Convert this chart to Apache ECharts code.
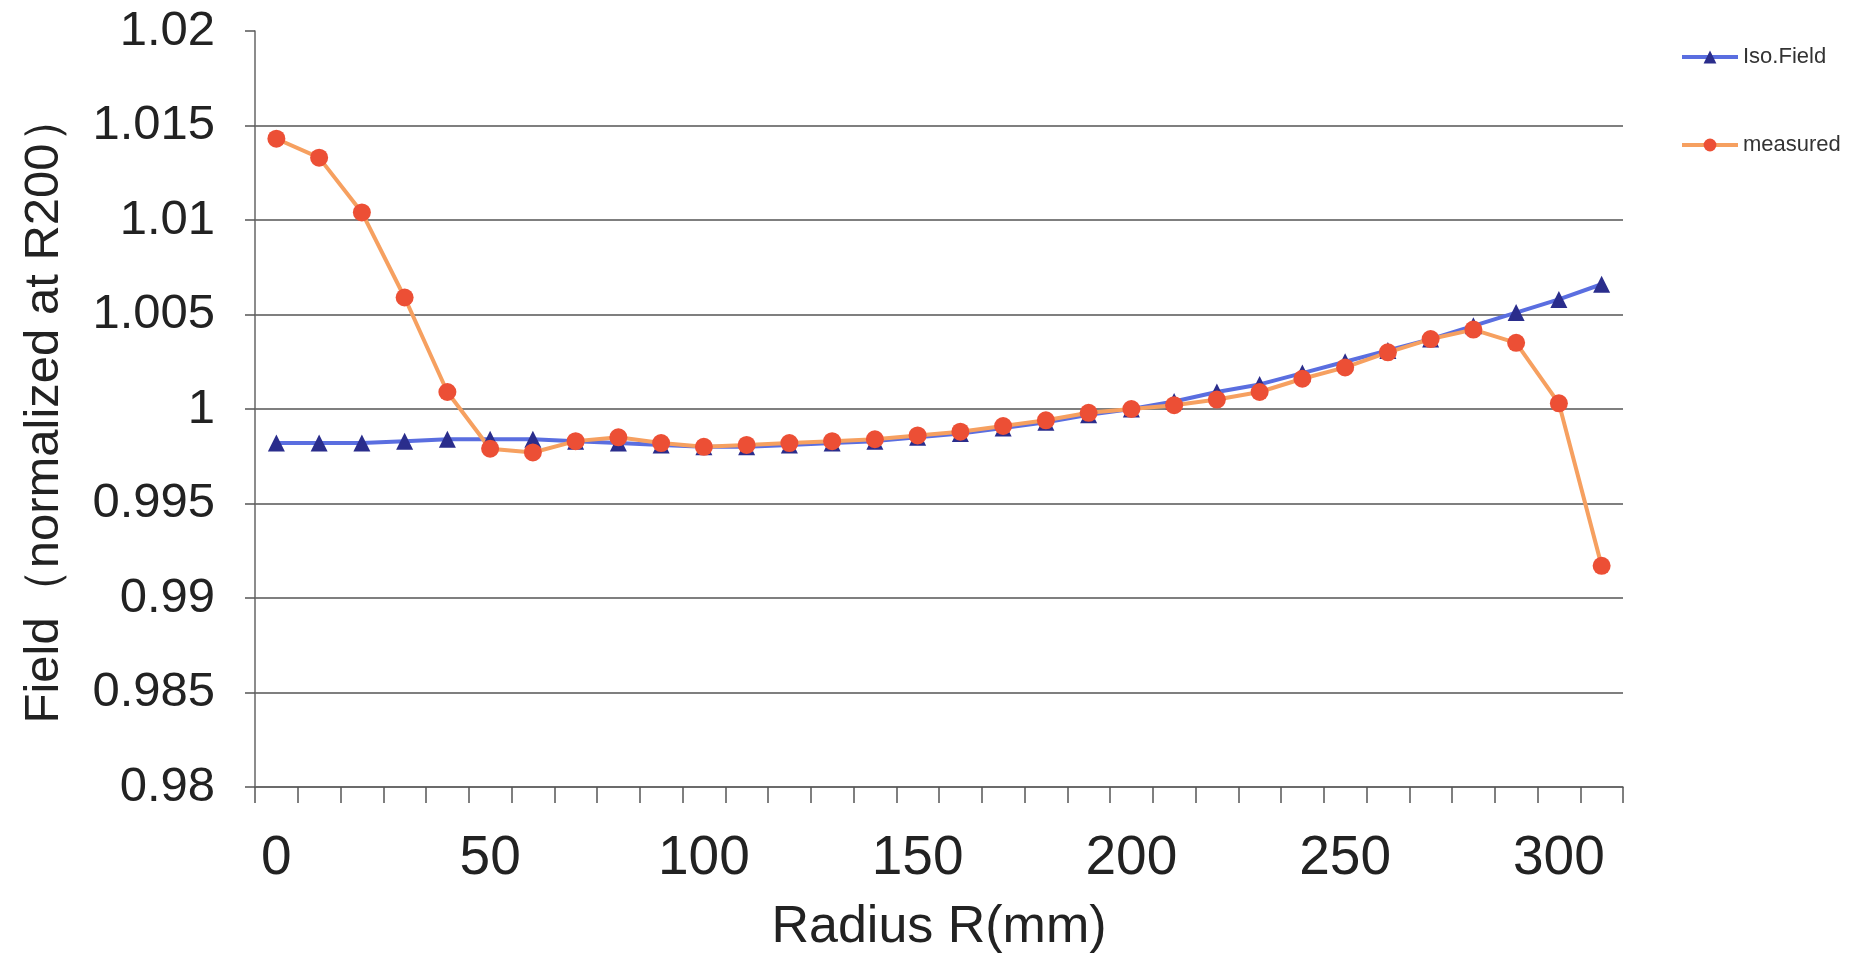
<!DOCTYPE html>
<html>
<head>
<meta charset="utf-8">
<script src="https://cdn.jsdelivr.net/npm/echarts@6/dist/echarts.min.js"></script>
<style>
  html, body { margin: 0; padding: 0; background: #fff; }
  #chart { width: 1875px; height: 962px; }
</style>
</head>
<body>
<div id="chart"></div>
<script>
// radius in mm
const radius = [0, 10, 20, 30, 40, 50, 60, 70, 80, 90, 100, 110, 120, 130, 140, 150,
  160, 170, 180, 190, 200, 210, 220, 230, 240, 250, 260, 270, 280, 290, 300, 310]

const isoField = [0.9982, 0.9982, 0.9982, 0.9983, 0.9984, 0.9984, 0.9984, 0.9983,
  0.9982, 0.9981, 0.9980, 0.9980, 0.9981, 0.9982, 0.9983, 0.9985,
  0.9987, 0.9990, 0.9993, 0.9997, 1.0000, 1.0004, 1.0009, 1.0013,
  1.0019, 1.0025, 1.0031, 1.0037, 1.0044, 1.0051, 1.0058, 1.0066]

const measured = [1.0143, 1.0133, 1.0104, 1.0059, 1.0009, 0.9979, 0.9977, 0.9983,
  0.9985, 0.9982, 0.9980, 0.9981, 0.9982, 0.9983, 0.9984, 0.9986,
  0.9988, 0.9991, 0.9994, 0.9998, 1.0000, 1.0002, 1.0005, 1.0009,
  1.0016, 1.0022, 1.0030, 1.0037, 1.0042, 1.0035, 1.0003, 0.9917]

const yMin = 0.98
const yMax = 1.02
const yStep = 0.005

const chart = echarts.init(document.getElementById('chart'))
const font = '"Liberation Sans", Arial, sans-serif'

chart.setOption({
  backgroundColor: '#fff',
  animation: false,
  textStyle: { fontFamily: font },
  legend: {
    orient: 'vertical',
    left: 1675,
    top: 41,
    itemGap: 66,
    itemWidth: 56,
    itemHeight: 16,
    lineStyle: { width: 4 },
    textStyle: { fontSize: 22, color: '#333', fontFamily: font },
    data: ['Iso.Field', 'measured']
  },
  grid: { left: 255, right: 252, top: 31, bottom: 175, containLabel: false },
  xAxis: {
    type: 'category',
    data: radius,
    boundaryGap: true,
    name: 'Radius R(mm)',
    nameLocation: 'middle',
    nameGap: 115,
    nameTextStyle: { fontSize: 52, color: '#222', fontFamily: font },
    axisLine: { lineStyle: { color: '#666', width: 1.5 } },
    axisTick: { show: true, length: 16, interval: 0, lineStyle: { color: '#555', width: 1.5 } },
    axisLabel: { interval: 4, margin: 44, fontSize: 55, color: '#222' },
    splitLine: { show: false }
  },
  yAxis: {
    type: 'value',
    min: yMin,
    max: yMax,
    interval: yStep,
    name: 'Field（normalized at R200）',
    nameLocation: 'middle',
    nameGap: 186,
    nameTextStyle: { fontSize: 49, color: '#222', fontFamily: font },
    axisLine: { show: true, lineStyle: { color: '#666', width: 1.5 } },
    axisTick: { show: true, length: 10, lineStyle: { color: '#555', width: 1.5 } },
    axisLabel: {
      margin: 40,
      fontSize: 49,
      color: '#222',
      formatter: (v) => String(+v.toFixed(3))
    },
    splitLine: { show: true, showMaxLine: false, lineStyle: { color: '#555', width: 1.5 } }
  },
  series: [
    {
      name: 'Iso.Field',
      type: 'line',
      data: isoField,
      symbol: 'triangle',
      symbolSize: 17,
      lineStyle: { color: '#5a6ee0', width: 4 },
      itemStyle: { color: '#2a2d8c' }
    },
    {
      name: 'measured',
      type: 'line',
      data: measured,
      symbol: 'circle',
      symbolSize: 18,
      lineStyle: { color: '#f6a060', width: 4 },
      itemStyle: { color: '#ec4f35' }
    }
  ]
})
</script>
</body>
</html>
